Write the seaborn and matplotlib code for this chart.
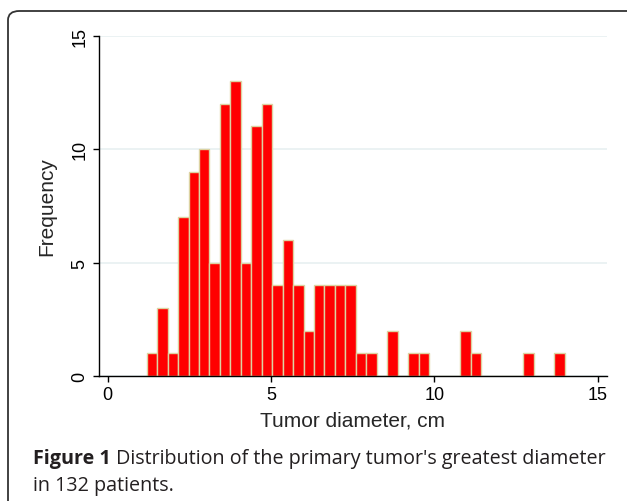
import numpy as np
import pandas as pd
import matplotlib
matplotlib.use("Agg")
import matplotlib.pyplot as plt
from matplotlib.patches import FancyBboxPatch
import seaborn as sns

# histogram bins: 40 bins of 0.32 cm starting at 1.2 cm
bin_start = 1.2
bin_width = 0.32
counts = [1, 3, 1, 7, 9, 10, 5, 12, 13, 5,
          11, 12, 4, 6, 4, 2, 4, 4, 4, 4,
          1, 1, 0, 2, 0, 1, 1, 0, 0, 0,
          2, 1, 0, 0, 0, 0, 1, 0, 0, 1]
x_ticks = [0, 5, 10, 15]
y_ticks = [0, 5, 10, 15]
x_label = "Tumor diameter, cm"
y_label = "Frequency"
caption_bold = "Figure 1"
caption_rest = " Distribution of the primary tumor's greatest diameter"
caption_line2 = "in 132 patients."

edges = bin_start + bin_width * np.arange(len(counts) + 1)
df = pd.DataFrame({"diameter": edges[:-1] + bin_width / 2, "n": counts})

sns.set_style("white")
plt.rcParams['font.family'] = ['Liberation Sans', 'DejaVu Sans']

fig = plt.figure(figsize=(6.27, 5.02), dpi=100)
ax = fig.add_axes([0.1574, 0.249, 0.8102, 0.678])

sns.histplot(data=df, x="diameter", weights="n", bins=list(edges),
             color="#ff0000", edgecolor="#dcd3a2", linewidth=1.0, alpha=1,
             ax=ax)

ax.set_xlim(-0.27, 15.28)
ax.set_ylim(0, 15)
ax.set_xticks(x_ticks)
ax.set_yticks(y_ticks)
ax.yaxis.grid(True, color="#e8f0f1", linewidth=1.2)
ax.set_axisbelow(True)
for s in ["top", "right"]:
    ax.spines[s].set_visible(False)
for s in ["left", "bottom"]:
    ax.spines[s].set_color("black")
    ax.spines[s].set_linewidth(1.0)
ax.tick_params(axis="both", direction="out", length=4.5, width=1.0,
               color="black", labelsize=13, labelcolor="black", pad=3,
               bottom=True, left=True)
for lab in ax.get_yticklabels():
    lab.set_rotation(90)
    lab.set_va("center")
ax.set_xlabel(x_label, fontsize=15, labelpad=5)
ax.set_ylabel(y_label, fontsize=15, labelpad=11)

# caption
cap_font = ['Open Sans', 'DejaVu Sans']
cap_size = 14.2
x0 = 33 / 627
t1 = fig.text(x0, 1 - 464 / 502, caption_bold, fontsize=cap_size,
              fontweight="bold", family=cap_font, color="#231f20",
              va="baseline")
fig.canvas.draw()
bb = t1.get_window_extent()
fig.text(bb.x1 / 627, 1 - 464 / 502, caption_rest, fontsize=cap_size,
         family=cap_font, color="#231f20", va="baseline")
fig.text(x0, 1 - 491 / 502, caption_line2, fontsize=cap_size,
         family=cap_font, color="#231f20", va="baseline")

# frame around the figure (right and bottom are cut off)
frame = FancyBboxPatch((8 / 627, -0.1), 1.1, 1.1 - 12 / 502,
                       boxstyle="round,pad=0,rounding_size=0.018",
                       transform=fig.transFigure, fill=False,
                       edgecolor="#333333", linewidth=1.3, clip_on=False)
fig.patches.append(frame)

fig.savefig("out.png", dpi=100)
